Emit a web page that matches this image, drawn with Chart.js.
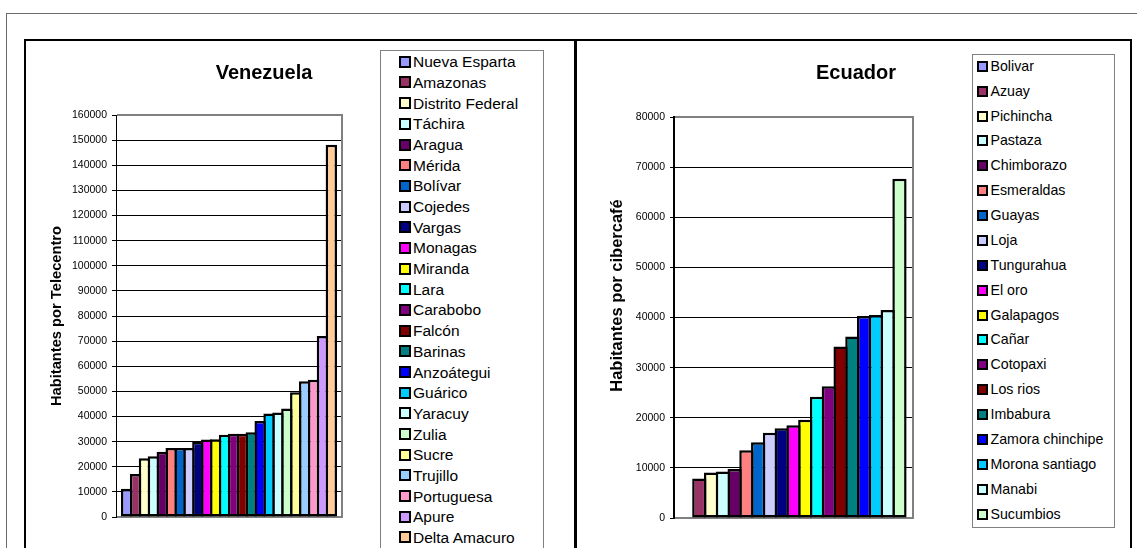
<!DOCTYPE html>
<html>
<head>
<meta charset="utf-8">
<script src="https://cdn.jsdelivr.net/npm/chart.js@4.4.1/dist/chart.umd.min.js"></script>
<style>
html,body{margin:0;padding:0;background:#fff;width:1137px;height:548px;overflow:hidden;font-family:"Liberation Sans",Arial,sans-serif;}
#stage{position:relative;width:1137px;height:548px;overflow:hidden;background:#fff;}
canvas{position:absolute;left:0;top:0;}
.ln{position:absolute;}
.legend{position:absolute;border:1px solid #808080;background:#fff;box-sizing:border-box;}
.item{position:absolute;white-space:nowrap;color:#000;font-family:"Liberation Sans",Arial,sans-serif;}
.mk{position:absolute;box-sizing:border-box;border:2px solid #000;}
</style>
</head>
<body>
<div id="stage">
  <div class="ln" style="left:6px;top:13px;width:1131px;height:1px;background:#6a6a6a;"></div>
  <div class="ln" style="left:6px;top:13px;width:1px;height:535px;background:#6a6a6a;"></div>
  <div class="ln" style="left:24px;top:39px;width:1108px;height:2px;background:#000;"></div>
  <div class="ln" style="left:24px;top:39px;width:2px;height:509px;background:#000;"></div>
  <div class="ln" style="left:574px;top:39px;width:3px;height:509px;background:#000;"></div>
  <div class="ln" style="left:1130px;top:39px;width:2px;height:509px;background:#000;"></div>
  <canvas id="cVen" width="1137" height="548"></canvas>
  <canvas id="cEcu" width="1137" height="548"></canvas>
  <div id="legVen" class="legend" style="left:380px;top:50px;width:164px;height:520px;"></div>
  <div id="legEcu" class="legend" style="left:972px;top:54px;width:143px;height:474px;"></div>
</div>
<script>
// ---------- DATA ----------
const venezuelaRegions = ["Nueva Esparta","Amazonas","Distrito Federal","Táchira","Aragua","Mérida","Bolívar","Cojedes","Vargas","Monagas","Miranda","Lara","Carabobo","Falcón","Barinas","Anzoátegui","Guárico","Yaracuy","Zulia","Sucre","Trujillo","Portuguesa","Apure","Delta Amacuro"];
const venezuelaValues = [11200,17100,23400,24200,26000,27500,27500,27500,30000,30800,30900,32700,33100,33100,33700,38200,41200,41600,43200,49700,54000,54600,72000,148200];
const venezuelaTicks = [0,10000,20000,30000,40000,50000,60000,70000,80000,90000,100000,110000,120000,130000,140000,150000,160000];

const ecuadorRegions = ["Bolivar","Azuay","Pichincha","Pastaza","Chimborazo","Esmeraldas","Guayas","Loja","Tungurahua","El oro","Galapagos","Cañar","Cotopaxi","Los rios","Imbabura","Zamora chinchipe","Morona santiago","Manabi","Sucumbios"];
const ecuadorValues = [null,7900,9100,9300,9800,13500,15100,17000,17900,18500,19600,24200,26300,34200,36200,40300,40500,41500,67700];
const ecuadorTicks = [0,10000,20000,30000,40000,50000,60000,70000,80000];

const palette = ["#9999FF","#993366","#FFFFCC","#CCFFFF","#660066","#FF8080","#0066CC","#CCCCFF","#000080","#FF00FF","#FFFF00","#00FFFF","#800080","#800000","#008080","#0000FF","#00CCFF","#CCFFFF","#CCFFCC","#FFFF99","#99CCFF","#FF99CC","#CC99FF","#FFCC99"];

// ---------- DRAWING ----------
const FONT = '"Liberation Sans", Arial, sans-serif';
const W = 1137, H = 548;
const BORDER = 2.5;

const framePlugin = {
  id: 'frame',
  beforeDatasetsDraw(chart) {
    const {ctx, chartArea: a} = chart;
    ctx.save();
    ctx.strokeStyle = '#808080';
    ctx.lineWidth = 2;
    ctx.beginPath();
    ctx.moveTo(a.left + 1, a.top);
    ctx.lineTo(a.right, a.top);
    ctx.lineTo(a.right, a.bottom);
    ctx.lineTo(a.left + 1, a.bottom);
    ctx.stroke();
    ctx.restore();
  },
  afterDraw(chart, args, o) {
    const ctx = chart.ctx;
    ctx.save();
    ctx.fillStyle = '#000';
    ctx.textAlign = 'center';
    ctx.textBaseline = 'alphabetic';
    ctx.font = 'bold ' + o.titleSize + 'px ' + FONT;
    ctx.fillText(o.title, o.titleX, o.titleY);
    ctx.translate(o.yTitleX, o.yTitleY);
    ctx.rotate(-Math.PI / 2);
    ctx.font = 'bold ' + o.yTitleSize + 'px ' + FONT;
    ctx.fillText(o.yTitle, 0, 0);
    ctx.restore();
  }
};

function makeChart(id, regions, values, ticks, g) {
  const n = regions.length;
  const slot = g.catPct * (g.right - g.left) / n;
  const barPct = (slot + BORDER) / slot;
  const yW = 60;
  const datasets = regions.map((r, i) => ({
    label: r,
    data: [values[i]],
    backgroundColor: palette[i],
    borderColor: '#000',
    borderWidth: BORDER,
    borderSkipped: false,
    inflateAmount: 0,
    categoryPercentage: g.catPct,
    barPercentage: barPct
  }));
  return new Chart(document.getElementById(id), {
    type: 'bar',
    data: {labels: [''], datasets},
    plugins: [framePlugin],
    options: {
      responsive: false,
      animation: false,
      devicePixelRatio: 1,
      events: [],
      layout: {padding: {left: g.left - yW, top: g.top, right: W - g.right, bottom: H - g.bottom}},
      plugins: {
        legend: {display: false},
        tooltip: {enabled: false},
        frame: g.text
      },
      scales: {
        x: {display: false},
        y: {
          min: ticks[0],
          max: ticks[ticks.length - 1],
          afterFit: s => { s.width = yW; },
          afterBuildTicks: s => { s.ticks = ticks.map(v => ({value: v})); },
          ticks: {
            padding: 5,
            color: '#000',
            font: {family: FONT, size: 10.5},
            callback: v => String(v)
          },
          grid: {color: '#000', lineWidth: 1, tickLength: 4, tickColor: '#000'},
          border: {display: true, color: '#000', width: g.axisW}
        }
      }
    }
  });
}

makeChart('cVen', venezuelaRegions, venezuelaValues, venezuelaTicks, {
  left: 116, right: 342, top: 115, bottom: 517, catPct: 0.945, axisW: 1,
  text: {title: 'Venezuela', titleX: 264, titleY: 79, titleSize: 20,
         yTitle: 'Habitantes por Telecentro', yTitleX: 60.5, yTitleY: 316, yTitleSize: 14.7}
});
makeChart('cEcu', ecuadorRegions, ecuadorValues, ecuadorTicks, {
  left: 674, right: 913, top: 117, bottom: 518, catPct: 0.936, axisW: 2,
  text: {title: 'Ecuador', titleX: 856, titleY: 79, titleSize: 20,
         yTitle: 'Habitantes por cibercafé', yTitleX: 621.5, yTitleY: 295.5, yTitleSize: 16.5}
});

// ---------- LEGENDS (HTML, built from the same arrays) ----------
function buildLegend(boxId, regions, p) {
  const box = document.getElementById(boxId);
  const bx = box.offsetLeft, by = box.offsetTop;
  regions.forEach((r, i) => {
    const cy = p.firstY + i * p.step;
    const m = document.createElement('div');
    m.className = 'mk';
    m.style.left = (p.markX - bx - 1) + 'px';
    m.style.top = (cy - p.mk / 2 - by - 1) + 'px';
    m.style.width = p.mk + 'px';
    m.style.height = p.mk + 'px';
    m.style.background = palette[i];
    box.appendChild(m);
    const t = document.createElement('div');
    t.className = 'item';
    const lh = Math.round(p.fs * 1.2);
    t.style.fontSize = p.fs + 'px';
    t.style.lineHeight = lh + 'px';
    t.style.left = (p.textX - bx - 1) + 'px';
    t.style.top = (cy - lh / 2 - by - 1) + 'px';
    t.textContent = r;
    box.appendChild(t);
  });
}
buildLegend('legVen', venezuelaRegions, {firstY: 61.8, step: 20.68, markX: 399, textX: 413, mk: 12, fs: 15.5});
buildLegend('legEcu', ecuadorRegions, {firstY: 66.3, step: 24.875, markX: 977, textX: 990.5, mk: 11, fs: 14.2});
</script>
</body>
</html>
